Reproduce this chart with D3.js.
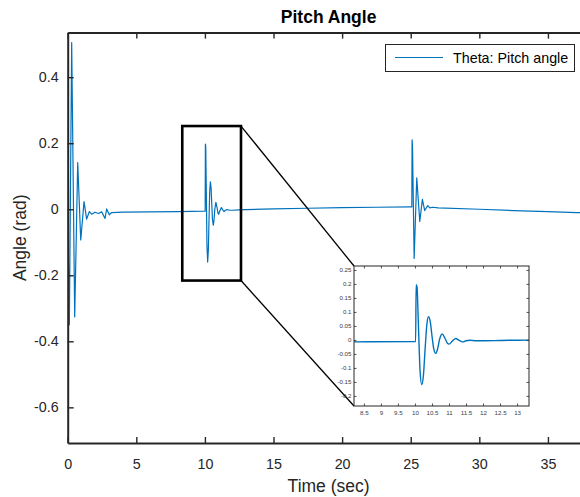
<!DOCTYPE html>
<html><head><meta charset="utf-8">
<script src="https://cdn.jsdelivr.net/npm/d3@7"></script>
<style>body{margin:0;background:#fff} svg{display:block}</style>
</head><body><svg id="c" width="580" height="497"></svg>
<script>
// ---- data ----
const time  = [0, 0.12, 0.29, 0.51, 0.73, 0.95, 1.19, 1.38, 1.58, 1.75, 1.99, 2.23, 2.48, 2.72, 2.84, 3.03, 3.2, 4, 6, 8,
  10.0, 10.02, 10.035, 10.06, 10.1, 10.15, 10.2, 10.25, 10.3, 10.35, 10.4, 10.45, 10.5, 10.55, 10.61, 10.66, 10.72, 10.8, 10.88, 10.95,
  11.0, 11.1, 11.2, 11.3, 11.4, 11.5, 11.6, 11.8, 12.0, 12.5, 13.0, 15, 17.5, 20, 22.5,
  25.0, 25.08, 25.1, 25.13, 25.25, 25.44, 25.66, 25.85, 26.02, 26.24, 26.4, 26.6, 27, 30, 32.5, 35, 37.1, 38.2];
const theta = [0, -0.35, 0.505, -0.326, 0.141, -0.093, 0.023, -0.03, -0.007, -0.015, -0.009, -0.013, -0.008, -0.028, 0.001, -0.017, -0.01, -0.009, -0.008, -0.007,
  -0.006, -0.006, 0.197, 0.19, 0.06, -0.11, -0.16, -0.125, -0.03, 0.055, 0.083, 0.065, 0.015, -0.03, -0.048, -0.035, 0.0, 0.021, 0.006, -0.011,
  -0.015, -0.004, 0.005, -0.002, -0.007, -0.003, -0.001, -0.003, -0.003, -0.002, -0.001, 0.001, 0.003, 0.005, 0.006,
  0.007, 0.007, 0.21, 0.19, -0.149, 0.095, -0.037, 0.030, -0.004, 0.011, 0.004, 0.006, 0.004, 0.0, -0.004, -0.007, -0.01, -0.011];
const xTicks = [0, 5, 10, 15, 20, 25, 30, 35];
const yTicks = [0.4, 0.2, 0, -0.2, -0.4, -0.6];
const xDomain = [0, 38.03];
const yDomain = [-0.708, 0.535];
const insetXTicks = [8.5, 9, 9.5, 10, 10.5, 11, 11.5, 12, 12.5, 13];
const insetYTicks = [0.25, 0.2, 0.15, 0.1, 0.05, 0, -0.05, -0.1, -0.15, -0.2];
const insetXDomain = [8.21, 13.35];
const insetYDomain = [-0.236, 0.264];
const zoomBoxT = [8.35, 12.63];
const zoomBoxY = [-0.216, 0.252];
const titleText = "Pitch Angle";
const xLabel = "Time (sec)";
const yLabel = "Angle (rad)";
const seriesName = "Theta: Pitch angle";

// ---- layout ----
const FONT = "'Liberation Sans', Arial, Helvetica, sans-serif";
const AX = "#262626";
const LINE = "#0072BD";
const P = {left: 67.7, right: 589.5, top: 32.6, bottom: 443};
const I = {left: 354, right: 529, top: 266, bottom: 406};
const svg = d3.select("#c");
const data = time.map((t, i) => ({t, v: theta[i]}));
const fmt = f => d => f(d).replace("\u2212", "-");

const x = d3.scaleLinear().domain(xDomain).range([P.left, P.right]);
const y = d3.scaleLinear().domain(yDomain).range([P.bottom, P.top]);

const defs = svg.append("defs");
defs.append("clipPath").attr("id", "pc").append("rect")
  .attr("x", P.left).attr("y", P.top).attr("width", P.right - P.left).attr("height", P.bottom - P.top);
defs.append("clipPath").attr("id", "ic").append("rect")
  .attr("x", I.left).attr("y", I.top).attr("width", I.right - I.left).attr("height", I.bottom - I.top);

// main line
svg.append("path").datum(data).attr("clip-path", "url(#pc)")
  .attr("fill", "none").attr("stroke", LINE).attr("stroke-width", 1.2).attr("stroke-linejoin", "round")
  .attr("d", d3.line().x(d => x(d.t)).y(d => y(d.v)));

// zoom box + connectors
svg.append("rect")
  .attr("x", x(zoomBoxT[0])).attr("y", y(zoomBoxY[1]))
  .attr("width", x(zoomBoxT[1]) - x(zoomBoxT[0])).attr("height", y(zoomBoxY[0]) - y(zoomBoxY[1]))
  .attr("fill", "none").attr("stroke", "#000").attr("stroke-width", 2.6);

// inset scales
const x2 = d3.scaleLinear().domain(insetXDomain).range([I.left, I.right]);
const y2 = d3.scaleLinear().domain(insetYDomain).range([I.bottom, I.top]);

svg.append("line").attr("x1", x(zoomBoxT[1])).attr("y1", y(zoomBoxY[1])).attr("x2", x2(insetXDomain[0])).attr("y2", y2(insetYDomain[1]))
  .attr("stroke", "#000").attr("stroke-width", 1.3);
svg.append("line").attr("x1", x(zoomBoxT[1])).attr("y1", y(zoomBoxY[0])).attr("x2", x2(insetXDomain[0])).attr("y2", y2(insetYDomain[0]))
  .attr("stroke", "#000").attr("stroke-width", 1.3);

// inset
svg.append("rect").attr("x", I.left).attr("y", I.top).attr("width", I.right - I.left).attr("height", I.bottom - I.top).attr("fill", "#fff");
svg.append("path").datum(data).attr("clip-path", "url(#ic)")
  .attr("fill", "none").attr("stroke", LINE).attr("stroke-width", 1.4).attr("stroke-linejoin", "round")
  .attr("d", d3.line().curve(d3.curveMonotoneX).x(d => x2(d.t)).y(d => y2(d.v)));

function styleAxis(g, fs) {
  g.select(".domain").remove();
  g.selectAll(".tick line").attr("stroke", AX).attr("stroke-width", 0.8);
  g.selectAll(".tick text").attr("fill", "#404040").attr("font-family", FONT).attr("font-size", fs);
}
const ifx = fmt(d3.format("~g"));
svg.append("g").attr("transform", `translate(0,${I.bottom})`)
  .call(d3.axisBottom(x2).tickValues(insetXTicks).tickSizeInner(-2.5).tickSizeOuter(0).tickPadding(4.5).tickFormat(ifx))
  .call(g => styleAxis(g, 6.2));
svg.append("g").attr("transform", `translate(0,${I.top})`)
  .call(d3.axisTop(x2).tickValues(insetXTicks).tickSizeInner(-2.5).tickSizeOuter(0).tickFormat(() => ""))
  .call(g => styleAxis(g, 6.2));
svg.append("g").attr("transform", `translate(${I.left},0)`)
  .call(d3.axisLeft(y2).tickValues(insetYTicks).tickSizeInner(-2.5).tickSizeOuter(0).tickPadding(2.5).tickFormat(ifx))
  .call(g => styleAxis(g, 6.2));
svg.append("g").attr("transform", `translate(${I.right},0)`)
  .call(d3.axisRight(y2).tickValues(insetYTicks).tickSizeInner(-2.5).tickSizeOuter(0).tickFormat(() => ""))
  .call(g => styleAxis(g, 6.2));
svg.append("rect").attr("x", I.left).attr("y", I.top).attr("width", I.right - I.left).attr("height", I.bottom - I.top)
  .attr("fill", "none").attr("stroke", AX).attr("stroke-width", 1);

// main axes
function styleMain(g) {
  g.select(".domain").attr("stroke", AX).attr("stroke-width", 2);
  g.selectAll(".tick line").attr("stroke", AX).attr("stroke-width", 1.4);
  g.selectAll(".tick text").attr("fill", AX).attr("font-family", FONT).attr("font-size", 14.3);
}
svg.append("g").attr("transform", `translate(0,${P.bottom})`)
  .call(d3.axisBottom(x).tickValues(xTicks).tickSizeInner(-6).tickSizeOuter(0).tickPadding(15.5).tickFormat(d3.format("d")))
  .call(styleMain);
svg.append("g").attr("transform", `translate(0,${P.top})`)
  .call(d3.axisTop(x).tickValues(xTicks).tickSizeInner(-6).tickSizeOuter(0).tickFormat(() => ""))
  .call(styleMain);
svg.append("g").attr("transform", `translate(${P.left},0)`)
  .call(d3.axisLeft(y).tickValues(yTicks).tickSizeInner(-6).tickSizeOuter(0).tickPadding(9).tickFormat(fmt(d3.format("~g"))))
  .call(styleMain);
svg.append("g").attr("transform", `translate(${P.right},0)`)
  .call(d3.axisRight(y).tickValues(yTicks).tickSizeInner(-6).tickSizeOuter(0).tickFormat(() => ""))
  .call(styleMain);

// titles
svg.append("text").attr("x", (P.left + P.right) / 2).attr("y", 22.5).attr("text-anchor", "middle")
  .attr("font-family", FONT).attr("font-weight", "bold").attr("font-size", 17.5).attr("fill", "#000").text(titleText);
svg.append("text").attr("x", (P.left + P.right) / 2).attr("y", 492).attr("text-anchor", "middle")
  .attr("font-family", FONT).attr("font-size", 17.5).attr("fill", AX).text(xLabel);
svg.append("text").attr("transform", `translate(26,${(P.top + P.bottom) / 2}) rotate(-90)`).attr("text-anchor", "middle")
  .attr("font-family", FONT).attr("font-size", 17.5).attr("fill", AX).text(yLabel);

// legend
const lg = svg.append("g");
lg.append("rect").attr("x", 385.5).attr("y", 44.5).attr("width", 189).attr("height", 27)
  .attr("fill", "#fff").attr("stroke", AX).attr("stroke-width", 1);
lg.append("line").attr("x1", 395).attr("x2", 443).attr("y1", 57.5).attr("y2", 57.5)
  .attr("stroke", LINE).attr("stroke-width", 1.2);
lg.append("text").attr("x", 453).attr("y", 62.5).attr("font-family", FONT).attr("font-size", 14.3)
  .attr("fill", "#000").text(seriesName);
</script>
</body></html>
